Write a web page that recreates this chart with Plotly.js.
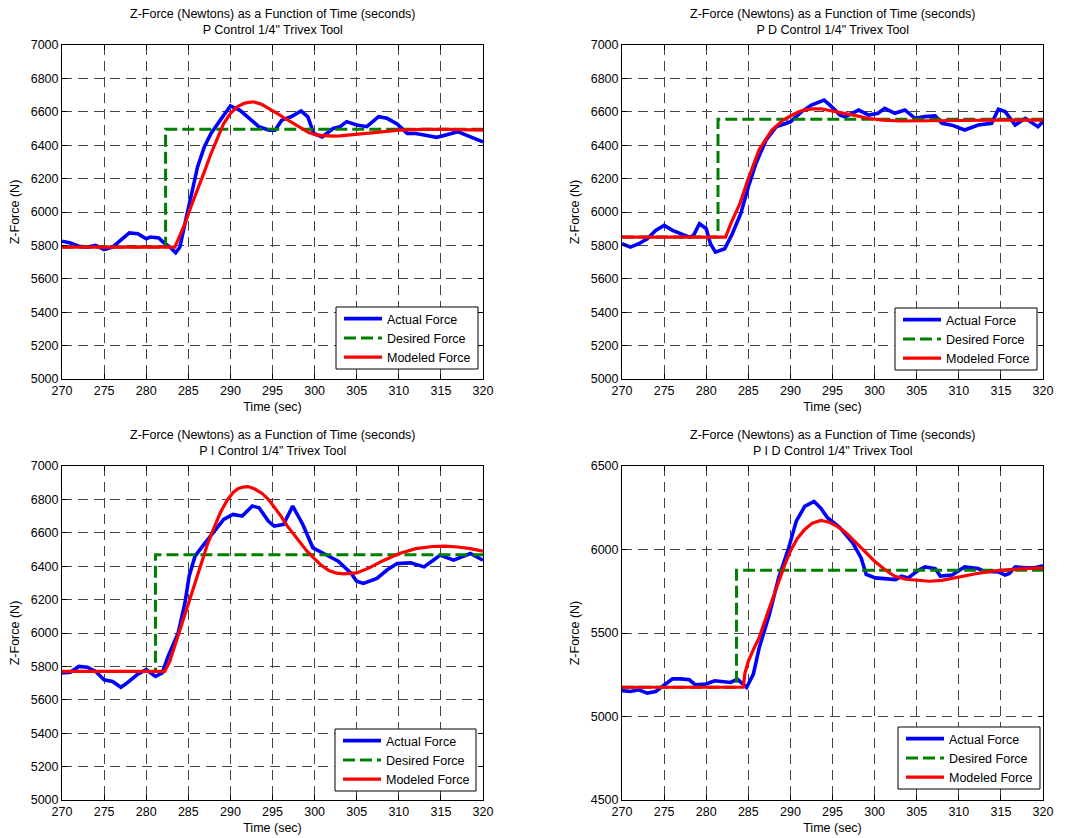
<!DOCTYPE html>
<html>
<head>
<meta charset="utf-8">
<script src="https://cdn.plot.ly/plotly-3.0.1.min.js"></script>
<style>html,body{margin:0;padding:0;background:#fff;}#chart{width:1075px;height:838px;}</style>
</head>
<body>
<div id="chart"></div>
<script>
// ---------- Data ----------
const titleLine1 = "Z-Force (Newtons) as a Function of Time (seconds)";
const panelNames = ["P Control 1/4\" Trivex Tool", "P D Control 1/4\" Trivex Tool", "P I Control 1/4\" Trivex Tool", "P I D Control 1/4\" Trivex Tool"];
const seriesNames = ["Actual Force", "Desired Force", "Modeled Force"];
const xTitle = "Time (sec)";
const yTitle = "Z-Force (N)";

// P control
const pActualT = [270,271,272,273,274,275,276,277,278,279,280,280.5,281.5,282,282.8,283.5,284,284.6,285.2,286.1,286.9,287.7,288.8,290,291.1,292.3,293.4,294.6,295.3,296.1,297.2,298.4,299.2,299.9,300.9,302.2,303,303.8,305,306.2,307.6,308.6,309.8,311,312,313,314.5,315.5,317,318,319,320];
const pActualF = [5825,5815,5795,5790,5800,5775,5790,5830,5875,5870,5840,5850,5845,5820,5790,5756,5790,5930,6070,6270,6390,6470,6550,6635,6610,6560,6510,6490,6490,6550,6570,6605,6570,6470,6450,6500,6510,6541,6521,6511,6571,6561,6527,6471,6470,6461,6447,6460,6481,6460,6441,6420];
const pDesiredT = [270,282.3,282.3,320];
const pDesiredF = [5790,5790,6495,6495];
const pModelT = [270,283.4,284,284.6,285.3,286.1,286.9,287.7,288.5,289.2,290,290.8,291.7,292.7,293.7,294.6,295.5,296.5,297.5,298.4,299.3,300.3,301.2,302.2,303,304,306,308,310,313,316,320];
const pModelF = [5790,5790,5860,5930,6030,6130,6240,6350,6450,6530,6590,6630,6652,6660,6645,6620,6592,6560,6528,6500,6476,6460,6455,6454,6456,6460,6470,6480,6490,6495,6495,6490];

// PD control
const pdActualT = [270,271,272,273,274,275,276,277,278,278.5,279.2,280,280.5,281.1,282.2,283.1,284.1,285,285.9,287.1,288.3,290,291.3,292.5,294,294.7,295.9,296.5,298.1,299.3,300.4,301.2,302.4,303.6,304.8,306,307.2,308,309.2,310.7,312.3,313.9,314.7,315.5,316.7,317.9,319.4,320];
const pdActualF = [5810,5790,5810,5840,5890,5920,5890,5870,5850,5860,5930,5900,5810,5760,5780,5870,5990,6150,6290,6430,6510,6540,6600,6640,6670,6640,6580,6570,6610,6580,6591,6621,6591,6611,6561,6571,6575,6531,6520,6491,6521,6531,6615,6601,6521,6561,6511,6541];
const pdDesiredT = [270,281.4,281.4,320];
const pdDesiredF = [5850,5850,6555,6555];
const pdModelT = [270,282.3,283,284,285,286.3,287.8,289,290,291,291.7,292.7,293.6,294.5,295.5,297.5,299.3,301,303,306,310,315,320];
const pdModelF = [5850,5850,5940,6050,6200,6375,6490,6545,6575,6600,6612,6618,6618,6610,6600,6580,6560,6550,6545,6545,6548,6550,6550];

// PI control
const piActualT = [270,271,272,273,274,275,276,277,277.7,278.9,280,281.1,281.9,282.6,283.8,284.6,285.1,285.8,286.7,288,289.2,290.3,291.4,292.6,293.4,294.5,295.2,296.3,297.4,298.6,299.8,301.3,302.8,304.3,305,305.8,307.4,308.6,309.8,311.4,313,314.1,314.9,316.5,318.5,320];
const piActualF = [5760,5765,5800,5795,5770,5720,5710,5675,5700,5750,5780,5740,5760,5860,6000,6180,6340,6460,6520,6600,6680,6710,6700,6760,6750,6670,6640,6650,6760,6650,6510,6470,6430,6360,6310,6297,6327,6377,6416,6420,6396,6436,6466,6436,6476,6436];
const piDesiredT = [270,281.1,281.1,320];
const piDesiredF = [5770,5770,6468,6468];
const piModelT = [270,282.2,282.8,283.4,284.2,285,285.8,286.5,287.2,288,288.8,289.6,290.3,290.9,291.5,292.1,292.9,293.8,294.5,295.2,296,296.7,297.5,298.2,299.1,300,300.8,301.7,302.6,303.5,304.3,305,306.5,308,310,312,314,315.5,317,318.5,320];
const piModelF = [5770,5770,5830,5920,6045,6174,6300,6414,6520,6624,6720,6794,6840,6864,6874,6877,6862,6834,6800,6754,6700,6644,6590,6544,6490,6444,6405,6374,6358,6354,6355,6360,6390,6430,6475,6505,6518,6520,6515,6505,6490];

// PID control
const pidActualT = [270,271,272,273,274,275,276,277,278,278.7,280,281,282,282.9,283.7,284.8,285.6,286.3,287.5,288.6,289.8,290.7,291.7,292.8,293.6,294.4,295.9,297.4,298.4,299,300.1,301.6,302.5,303.2,304,305.2,306,307.2,307.8,309.2,310.7,312.3,313,314.7,315.5,316,316.7,318,319,320];
const pidActualF = [5155,5150,5160,5140,5150,5190,5225,5225,5220,5190,5195,5214,5210,5204,5224,5174,5254,5412,5611,5830,6010,6170,6258,6288,6248,6190,6130,6040,5950,5851,5830,5825,5820,5840,5830,5876,5896,5886,5841,5847,5896,5886,5870,5866,5847,5856,5896,5890,5890,5902];
const pidDesiredT = [270,283.6,283.6,320];
const pidDesiredF = [5175,5175,5875,5875];
const pidModelT = [270,284.4,284.6,285,285.6,286.3,287.5,288.6,289.3,290,290.8,291.7,292.6,293.6,294.5,295.5,296.5,297.4,298.7,300,301.2,302.4,303.7,305,306.5,308,310,312,314,316,318,320];
const pidModelF = [5175,5175,5260,5330,5400,5474,5650,5812,5905,5990,6065,6120,6158,6174,6165,6140,6105,6060,5995,5930,5880,5840,5822,5815,5810,5815,5835,5855,5870,5880,5885,5890];

// ---------- Styling ----------
const FONT = "Arial, 'Liberation Sans', sans-serif";
const FS = 12.5;
const blue = "#0000FF", green = "#008000", red = "#FF0000";

const panels = [
  {aT:pActualT, aF:pActualF, dT:pDesiredT, dF:pDesiredF, mT:pModelT, mF:pModelF, yr:[5000,7000], dt:200},
  {aT:pdActualT, aF:pdActualF, dT:pdDesiredT, dF:pdDesiredF, mT:pdModelT, mF:pdModelF, yr:[5000,7000], dt:200},
  {aT:piActualT, aF:piActualF, dT:piDesiredT, dF:piDesiredF, mT:piModelT, mF:piModelF, yr:[5000,7000], dt:200},
  {aT:pidActualT, aF:pidActualF, dT:pidDesiredT, dF:pidDesiredF, mT:pidModelT, mF:pidModelF, yr:[4500,6500], dt:500}
];

const W = 1075, H = 838;
// plot areas in pixels [left, top, right, bottom]
const boxes = [[62,45,483,379],[622,45,1043,379],[62,466,483,800],[622,466,1043,800]];
// legend frames in pixels [left, top, right, bottom]
const legendBoxes = [[336,307,478,369],[895,308,1037,370],[335,729,476,791],[898,727,1040,789]];

const data = [];
const layout = {
  width: W, height: H,
  margin: {l:0, r:0, t:0, b:0},
  paper_bgcolor: "#fff", plot_bgcolor: "#fff",
  font: {family: FONT, size: FS, color: "#000"},
  showlegend: true,
  annotations: [],
  shapes: []
};

panels.forEach((p, i) => {
  const n = i + 1;
  const xa = "x" + (n === 1 ? "" : n), ya = "y" + (n === 1 ? "" : n);
  const lg = "legend" + (n === 1 ? "" : n);
  data.push({x:p.aT, y:p.aF, xaxis:xa, yaxis:ya, type:"scatter", mode:"lines", name:seriesNames[0], legend:lg,
             line:{color:blue, width:3.6}});
  data.push({x:p.dT, y:p.dF, xaxis:xa, yaxis:ya, type:"scatter", mode:"lines", name:seriesNames[1], legend:lg,
             line:{color:green, width:3, dash:"12px,5px"}});
  data.push({x:p.mT, y:p.mF, xaxis:xa, yaxis:ya, type:"scatter", mode:"lines", name:seriesNames[2], legend:lg,
             line:{color:red, width:3.2}});

  const b = boxes[i];
  const axCommon = {
    showline:true, linecolor:"#000", linewidth:1, mirror:"ticks",
    ticks:"inside", ticklen:5, tickcolor:"#000",
    showgrid:true, gridcolor:"#444", griddash:"10px,6px", gridwidth:1,
    zeroline:false, automargin:false,
    tickfont:{family:FONT, size:FS, color:"#000"}
  };
  layout["xaxis" + (n === 1 ? "" : n)] = Object.assign({}, axCommon, {
    domain:[b[0]/W, b[2]/W], anchor:ya, range:[270,320], dtick:5, tick0:270,
    title:{text:xTitle, font:{family:FONT, size:FS, color:"#000"}, standoff:5}
  });
  layout["yaxis" + (n === 1 ? "" : n)] = Object.assign({}, axCommon, {
    domain:[1 - b[3]/H, 1 - b[1]/H], anchor:xa, range:p.yr, dtick:p.dt, tick0:p.yr[0],
    title:{text:yTitle, font:{family:FONT, size:FS, color:"#000"}, standoff:8}
  });

  const lb = legendBoxes[i];
  // white legend frame (drawn above the traces, below the legend entries)
  layout.shapes.push({
    type:"rect", xref:"paper", yref:"paper", layer:"above",
    x0: lb[0]/W, x1: lb[2]/W, y0: 1 - lb[3]/H, y1: 1 - lb[1]/H,
    fillcolor:"#fff", line:{color:"#000", width:1}
  });
  layout[lg] = {
    x: (lb[0] + 3)/W, y: 1 - (lb[1] - 3)/H, xanchor:"left", yanchor:"top",
    bgcolor:"rgba(0,0,0,0)", borderwidth:0, itemwidth:38,
    font:{family:FONT, size:FS, color:"#000"}, tracegroupgap:0
  };
  layout.annotations.push({
    xref:xa + " domain", yref:ya + " domain", x:0.5, y:1, xanchor:"center", yanchor:"bottom",
    yshift:6, showarrow:false, align:"center",
    text: titleLine1 + "<br>" + panelNames[i],
    font:{family:FONT, size:FS, color:"#000"}
  });
});

Plotly.newPlot("chart", data, layout, {displayModeBar:false, staticPlot:true});
</script>
</body>
</html>
